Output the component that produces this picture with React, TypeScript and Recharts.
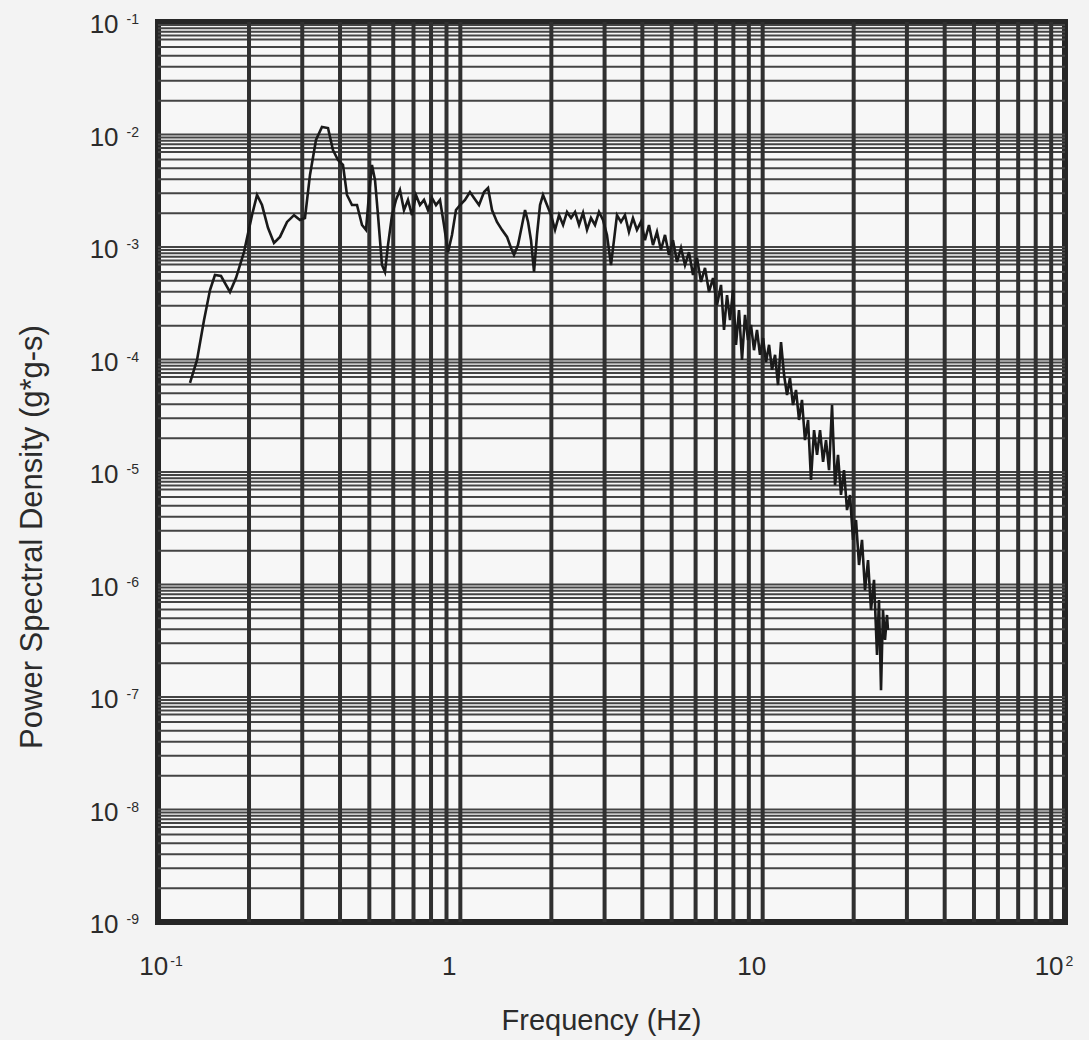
import { Label, Line, LineChart, ReferenceArea, ReferenceLine, XAxis, YAxis } from "recharts";

// smooth low-frequency part (Hz / g*g-s)
const lowHz = [0.1276, 0.1346, 0.142, 0.1486, 0.1543, 0.1616, 0.1678, 0.173, 0.1811, 0.1925, 0.2046, 0.2126, 0.2208, 0.2311, 0.2419, 0.2532, 0.2672, 0.2818, 0.2949, 0.3063, 0.3182, 0.3331, 0.3486, 0.365, 0.3791, 0.3939, 0.4091, 0.4218, 0.4382, 0.4552, 0.4729, 0.4875, 0.4987, 0.5102, 0.5221, 0.5341, 0.5506, 0.5633, 0.5764, 0.5943, 0.6126]
const lowPsd = [6.2e-5, 9.9e-5, 2.24e-4, 4.15e-4, 5.64e-4, 5.52e-4, 4.6e-4, 3.98e-4, 5.3e-4, 9.0e-4, 1.92e-3, 2.9e-3, 2.36e-3, 1.48e-3, 1.085e-3, 1.23e-3, 1.67e-3, 1.92e-3, 1.74e-3, 1.81e-3, 4.37e-3, 8.94e-3, 1.166e-2, 1.142e-2, 7.28e-3, 5.93e-3, 5.36e-3, 2.9e-3, 2.36e-3, 2.36e-3, 1.57e-3, 1.42e-3, 2.9e-3, 5.36e-3, 3.94e-3, 1.92e-3, 6.92e-4, 6.0e-4, 1.04e-3, 1.92e-3, 2.62e-3]

// plateau
const midHz = [0.6315, 0.651, 0.6711, 0.6918, 0.7132, 0.7353, 0.7583, 0.7816, 0.8058, 0.8308, 0.8564, 0.8829, 0.9103, 0.9384, 0.9674, 0.9975, 1.036, 1.076, 1.11, 1.153, 1.198, 1.235, 1.273, 1.322, 1.373, 1.427, 1.471, 1.505, 1.551, 1.6, 1.637, 1.675, 1.713, 1.753, 1.793, 1.835, 1.877, 1.935, 1.995, 2.057, 2.121, 2.187, 2.254, 2.324, 2.396, 2.47, 2.546, 2.624, 2.705, 2.789, 2.875, 2.964, 3.055, 3.15, 3.223, 3.297, 3.399, 3.504, 3.612, 3.724, 3.839, 3.958, 4.08, 4.207, 4.337, 4.471, 4.609, 4.753, 4.899, 5.051, 5.208, 5.369, 5.535, 5.706, 5.883, 6.065, 6.252, 6.446, 6.646, 6.851, 7.063, 7.282]
const midPsd = [3.21e-3, 2.13e-3, 2.62e-3, 1.92e-3, 2.9e-3, 2.36e-3, 2.62e-3, 2.13e-3, 2.73e-3, 2.36e-3, 2.62e-3, 1.57e-3, 9.0e-4, 1.28e-3, 2.13e-3, 2.36e-3, 2.62e-3, 3.08e-3, 2.73e-3, 2.36e-3, 3.08e-3, 3.35e-3, 2.13e-3, 1.67e-3, 1.42e-3, 1.23e-3, 9.8e-4, 8.5e-4, 1.04e-3, 1.57e-3, 2.13e-3, 1.67e-3, 1.15e-3, 6.0e-4, 1.28e-3, 2.36e-3, 2.9e-3, 2.36e-3, 1.92e-3, 1.42e-3, 1.92e-3, 1.57e-3, 2.05e-3, 1.81e-3, 2.05e-3, 1.57e-3, 2.01e-3, 1.42e-3, 1.81e-3, 1.57e-3, 2.05e-3, 1.74e-3, 1.28e-3, 6.92e-4, 1.15e-3, 1.92e-3, 1.67e-3, 1.92e-3, 1.36e-3, 1.81e-3, 1.42e-3, 1.67e-3, 1.15e-3, 1.57e-3, 1.04e-3, 1.36e-3, 9.4e-4, 1.28e-3, 8.5e-4, 1.15e-3, 7.36e-4, 9.8e-4, 6.92e-4, 9.0e-4, 5.64e-4, 8.0e-4, 4.89e-4, 6.51e-4, 3.98e-4, 5.3e-4, 3.05e-4, 4.6e-4]

// noisy roll-off
const highHz = [7.45, 7.623, 7.798, 7.978, 8.162, 8.351, 8.544, 8.741, 8.942, 9.149, 9.362, 9.578, 9.799, 10.03, 10.26, 10.5, 10.74, 10.99, 11.24, 11.5, 11.77, 12.04, 12.31, 12.6, 12.89, 13.19, 13.49, 13.8, 14.13, 14.45, 14.79, 15.13, 15.48, 15.84, 16.2, 16.58, 16.96, 17.35, 17.75, 18.16, 18.58, 19.01, 19.45, 19.9, 20.36, 20.83, 21.31, 21.8, 22.31, 22.82, 23.35, 23.89, 24.25, 24.63, 25.0, 25.39, 25.78, 25.97]
const highPsd = [1.83e-4, 3.74e-4, 2.24e-4, 4.15e-4, 1.35e-4, 2.75e-4, 9.9e-5, 2.49e-4, 1.49e-4, 2.03e-4, 1.21e-4, 1.83e-4, 1.1e-4, 1.55e-4, 9.5e-5, 1.35e-4, 8.1e-5, 1.1e-4, 5.93e-5, 1.43e-4, 7.28e-5, 4.83e-5, 6.85e-5, 3.94e-5, 5.36e-5, 2.9e-5, 4.37e-5, 1.92e-5, 2.9e-5, 8.5e-6, 2.36e-5, 1.42e-5, 2.36e-5, 1.23e-5, 1.92e-5, 1.04e-5, 3.94e-5, 7.66e-6, 1.42e-5, 6.25e-6, 1.04e-5, 4.59e-6, 6.25e-6, 2.49e-6, 3.74e-6, 1.49e-6, 2.49e-6, 8.9e-7, 1.65e-6, 5.93e-7, 1.1e-6, 2.36e-7, 7.28e-7, 1.15e-7, 5.93e-7, 3.21e-7, 5.36e-7, 3.94e-7]

const xTicks = [0.1, 1, 10, 100]
const xTickText = [["10", "-1"], ["1", ""], ["10", ""], ["10", "2"]]
const yTicks = [1e-1, 1e-2, 1e-3, 1e-4, 1e-5, 1e-6, 1e-7, 1e-8, 1e-9]
const yTickExp = ["-1", "-2", "-3", "-4", "-5", "-6", "-7", "-8", "-9"]

// log paper rulings
const xDecades = [0.1, 1, 10]
const vSteps = [2, 3, 4, 5, 6, 7, 8, 9, 10]
const yDecades = [1e-9, 1e-8, 1e-7, 1e-6, 1e-5, 1e-4, 1e-3, 1e-2]
const hSteps = [2, 3, 4, 5, 6, 7, 7.6, 8.2, 8.8, 9.4, 10]

const data = [...lowHz, ...midHz, ...highHz].map((f, i) => ({ f, psd: [...lowPsd, ...midPsd, ...highPsd][i] }))

const vLines = xDecades.flatMap(d => vSteps.map(s => +(d * s).toPrecision(3))).filter(v => v < 100)
const hLines = yDecades.flatMap(d => hSteps.map(s => +(d * s).toPrecision(3))).filter(v => v < 1e-1)

const font = "'Liberation Sans', Arial, Helvetica, sans-serif"
const ink = "#2b2b2b"

const XTick = (props: any) => {
    const { x, y, payload } = props
    const i = xTicks.indexOf(payload.value)
    const [base, exp] = xTickText[i] ?? ["", ""]
    const shift = i === 0 ? 3 : -11
    return (
        <text x={x + shift} y={y + 53} textAnchor="middle" fontFamily={font} fontSize={26} fill={ink}>
            {base}
            {exp && <tspan dx={2} dy={-9} fontSize={14}>{exp}</tspan>}
        </text>
    )
}

const YTick = (props: any) => {
    const { x, y, payload } = props
    const i = yTicks.indexOf(payload.value)
    return (
        <text x={x - 19} y={y + 11} textAnchor="end" fontFamily={font} fontSize={26} fill={ink}>
            10<tspan dx={8} dy={-9} fontSize={14}>{yTickExp[i]}</tspan>
        </text>
    )
}

const XTitle = ({ viewBox }: any) =>
    <text x={viewBox.x + viewBox.width / 2 - 10} y={viewBox.y + 108} textAnchor="middle" fontFamily={font} fontSize={29} fill={ink}>
        Frequency (Hz)
    </text>

const YTitle = ({ viewBox }: any) => {
    const cx = 42, cy = viewBox.y + 515
    return (
        <text x={cx} y={cy} transform={`rotate(-90, ${cx}, ${cy})`} textAnchor="middle" fontFamily={font} fontSize={31} fill={ink}>
            Power Spectral Density (g*g-s)
        </text>
    )
}

export default function App() {
    return (
        <div style={{ position: "absolute", left: 0, top: 0, width: 1089, height: 1040, background: "#f3f3f3" }}>
            <LineChart width={1089} height={1040} data={data} margin={{ top: 22, right: 24, bottom: 0, left: 0 }}>
                <XAxis dataKey="f" type="number" scale="log" domain={[0.1, 100]} ticks={xTicks} allowDataOverflow
                    height={118} tickSize={0} tickMargin={0} axisLine={false} tick={<XTick />}>
                    <Label content={<XTitle />} />
                </XAxis>
                <YAxis dataKey="psd" type="number" scale="log" domain={[1e-9, 1e-1]} ticks={yTicks} allowDataOverflow
                    width={158} tickSize={0} tickMargin={0} axisLine={false} tick={<YTick />}>
                    <Label content={<YTitle />} />
                </YAxis>
                <ReferenceArea x1={0.1} x2={100} y1={1e-9} y2={1e-1} fill="#f7f7f7" fillOpacity={1} stroke="none" />
                {hLines.map(v => <ReferenceLine key={"h" + v} y={v} stroke="#444" strokeWidth={2} />)}
                {vLines.map(v => <ReferenceLine key={"v" + v} x={v} stroke="#303030" strokeWidth={4} />)}
                <ReferenceArea x1={0.1} x2={100} y1={1e-9} y2={1e-1} fill="none" stroke="#262626" strokeWidth={6} />
                <Line dataKey="psd" type="linear" stroke="#1a1a1a" strokeWidth={2.6} dot={false} isAnimationActive={false} />
            </LineChart>
        </div>
    )
}
